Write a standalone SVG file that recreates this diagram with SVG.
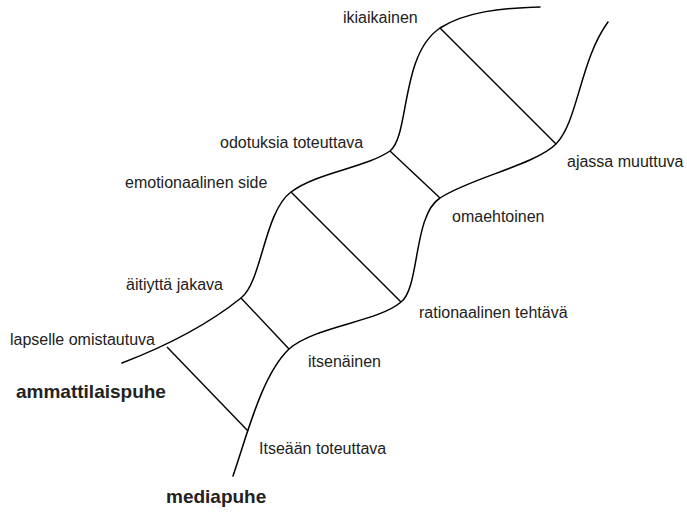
<svg xmlns="http://www.w3.org/2000/svg" width="687" height="512" viewBox="0 0 687 512">
<style>
.c{fill:none;stroke:#000;stroke-width:1.5;stroke-linecap:round}
.r{fill:none;stroke:#000;stroke-width:1.4}
.t{font-family:"Liberation Sans",Arial,sans-serif;font-size:16px;fill:#222}
.b{font-family:"Liberation Sans",Arial,sans-serif;font-size:19px;font-weight:bold;fill:#222}
</style>
<rect width="687" height="512" fill="#fff"/>
<g id="curve-ammattilaispuhe">
<path class="c" d="M122,363 Q195,335 241,298 C262,282 264,212 291,192 C318,172 365,168 390,151 C410,135 400,55 440,28 C465,12 500,8 540,7"/>
</g>
<g id="curve-mediapuhe">
<path class="c" d="M233,476 C248,432 262,375 289,349 C315,326 378,322 401,302 C420,288 413,215 440,198 C470,178 535,165 556,144 C578,122 580,60 608,22"/>
</g>
<g id="connectors">
<line class="r" x1="167" y1="347" x2="248" y2="431"/>
<line class="r" x1="241" y1="298" x2="289" y2="349"/>
<line class="r" x1="291" y1="192" x2="401" y2="302"/>
<line class="r" x1="390" y1="151" x2="440" y2="198"/>
<line class="r" x1="440" y1="28" x2="556" y2="144"/>
</g>
<g id="labels">
<text class="t" x="343" y="23">ikiaikainen</text>
<text class="t" x="220" y="148">odotuksia toteuttava</text>
<text class="t" x="567" y="167">ajassa muuttuva</text>
<text class="t" x="452" y="222">omaehtoinen</text>
<text class="t" x="125" y="188">emotionaalinen side</text>
<text class="t" x="126" y="290">äitiyttä jakava</text>
<text class="t" x="419" y="318">rationaalinen tehtävä</text>
<text class="t" x="10" y="345">lapselle omistautuva</text>
<text class="t" x="308" y="367">itsenäinen</text>
<text class="t" x="259" y="454">Itseään toteuttava</text>
<text class="b" x="16" y="398">ammattilaispuhe</text>
<text class="b" x="166" y="503">mediapuhe</text>
</g>
</svg>
